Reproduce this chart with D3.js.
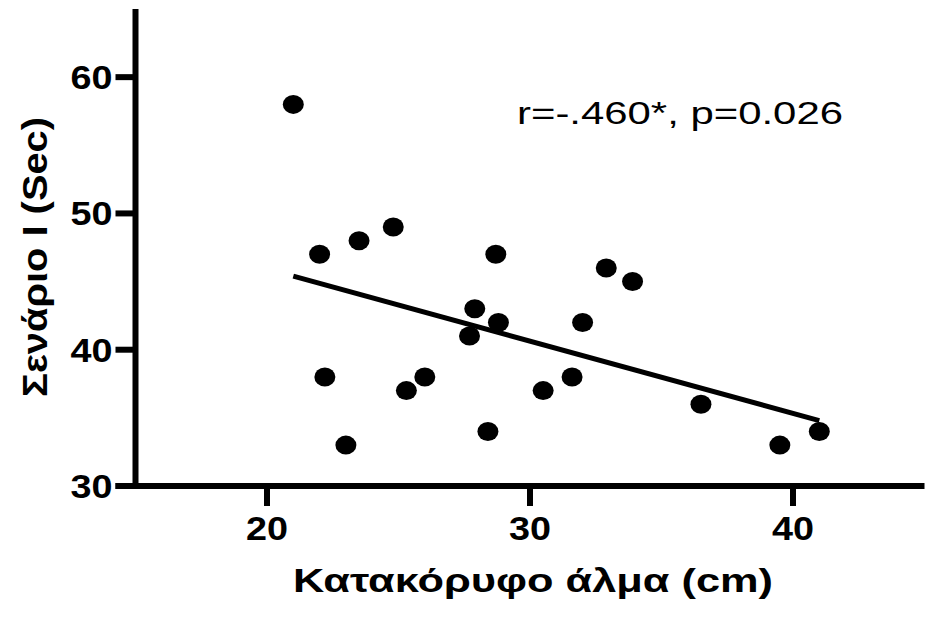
<!DOCTYPE html>
<html>
<head>
<meta charset="utf-8">
<script src="https://cdn.jsdelivr.net/npm/d3@7"></script>
<style>
  body { margin: 0; background: #fff; }
  text { font-family: "Liberation Sans", Arial, Helvetica, sans-serif; fill: #000; }
</style>
</head>
<body>
<svg id="chart" width="929" height="619"></svg>
<script>
// data
const jumpCm = [21, 22, 22.2, 23.5, 23, 24.8, 25.3, 26, 27.7, 27.9, 28.8, 28.7, 28.4, 30.5, 31.6, 32, 32.9, 33.9, 36.5, 39.5, 41];
const scenarioSec = [58, 47, 38, 48, 33, 49, 37, 38, 41, 43, 42, 47, 34, 37, 38, 42, 46, 45, 36, 33, 34];
const fitX = [21, 41];
const fitY = [45.4, 34.8];
const xTicks = [20, 30, 40];
const yTicks = [30, 40, 50, 60];
const note = 'r=-.460*, p=0.026';
const xTitle = 'Κατακόρυφο άλμα (cm)';
const yTitle = 'Σενάριο Ι (Sec)';

const svg = d3.select('#chart');

const x = d3.scaleLinear().domain([15, 45]).range([135.5, 924.5]);
const y = d3.scaleLinear().domain([30, 65]).range([486, 9]);

const axisW = 6;
const tickLen = 20;

// the figure's lettering is wider than Liberation Sans, so stretch it a bit
function stretch(sel, len) {
    sel.attr('textLength', len).attr('lengthAdjust', 'spacingAndGlyphs');
}

// x axis
const xAxis = svg.append('g').attr('transform', `translate(0,${y(30)})`);
xAxis.append('line')
    .attr('x1', x(15) - tickLen).attr('x2', x(45))
    .attr('stroke', '#000').attr('stroke-width', axisW);
xAxis.selectAll('.xt').data(xTicks).enter().append('line')
    .attr('x1', d => x(d)).attr('x2', d => x(d))
    .attr('y1', 0).attr('y2', tickLen)
    .attr('stroke', '#000').attr('stroke-width', axisW);
xAxis.selectAll('.xl').data(xTicks).enter().append('text')
    .attr('x', d => x(d)).attr('y', 54)
    .attr('text-anchor', 'middle')
    .attr('font-size', 34).attr('font-weight', 'bold')
    .text(d => d)
    .call(stretch, 42);

// y axis
const yAxis = svg.append('g').attr('transform', `translate(${x(15)},0)`);
yAxis.append('line')
    .attr('y1', y(65)).attr('y2', y(30) + axisW / 2)
    .attr('stroke', '#000').attr('stroke-width', axisW);
yAxis.selectAll('.yt').data(yTicks).enter().append('line')
    .attr('x1', -tickLen).attr('x2', 0)
    .attr('y1', d => y(d)).attr('y2', d => y(d))
    .attr('stroke', '#000').attr('stroke-width', axisW);
yAxis.selectAll('.yl').data(yTicks).enter().append('text')
    .attr('x', -23).attr('y', d => y(d) + 12)
    .attr('text-anchor', 'end')
    .attr('font-size', 33).attr('font-weight', 'bold')
    .text(d => d)
    .call(stretch, 42);

// points
const pts = jumpCm.map((v, i) => ({ x: v, y: scenarioSec[i] }));
svg.append('g').selectAll('ellipse').data(pts).enter().append('ellipse')
    .attr('cx', d => x(d.x)).attr('cy', d => y(d.y))
    .attr('rx', 10.5).attr('ry', 9.5)
    .attr('fill', '#000');

// regression line
svg.append('line')
    .attr('x1', x(fitX[0])).attr('y1', y(fitY[0]))
    .attr('x2', x(fitX[1])).attr('y2', y(fitY[1]))
    .attr('stroke', '#000').attr('stroke-width', 5);

// annotation
svg.append('text')
    .attr('x', 517).attr('y', 124)
    .attr('font-size', 32)
    .text(note)
    .call(stretch, 326);

// axis titles
svg.append('text')
    .attr('x', 293).attr('y', 592)
    .attr('font-size', 33).attr('font-weight', 'bold')
    .text(xTitle)
    .call(stretch, 480);

svg.append('text')
    .attr('transform', 'translate(47,397) rotate(-90)')
    .attr('font-size', 35).attr('font-weight', 'bold')
    .text(yTitle)
    .call(stretch, 280);
</script>
</body>
</html>
